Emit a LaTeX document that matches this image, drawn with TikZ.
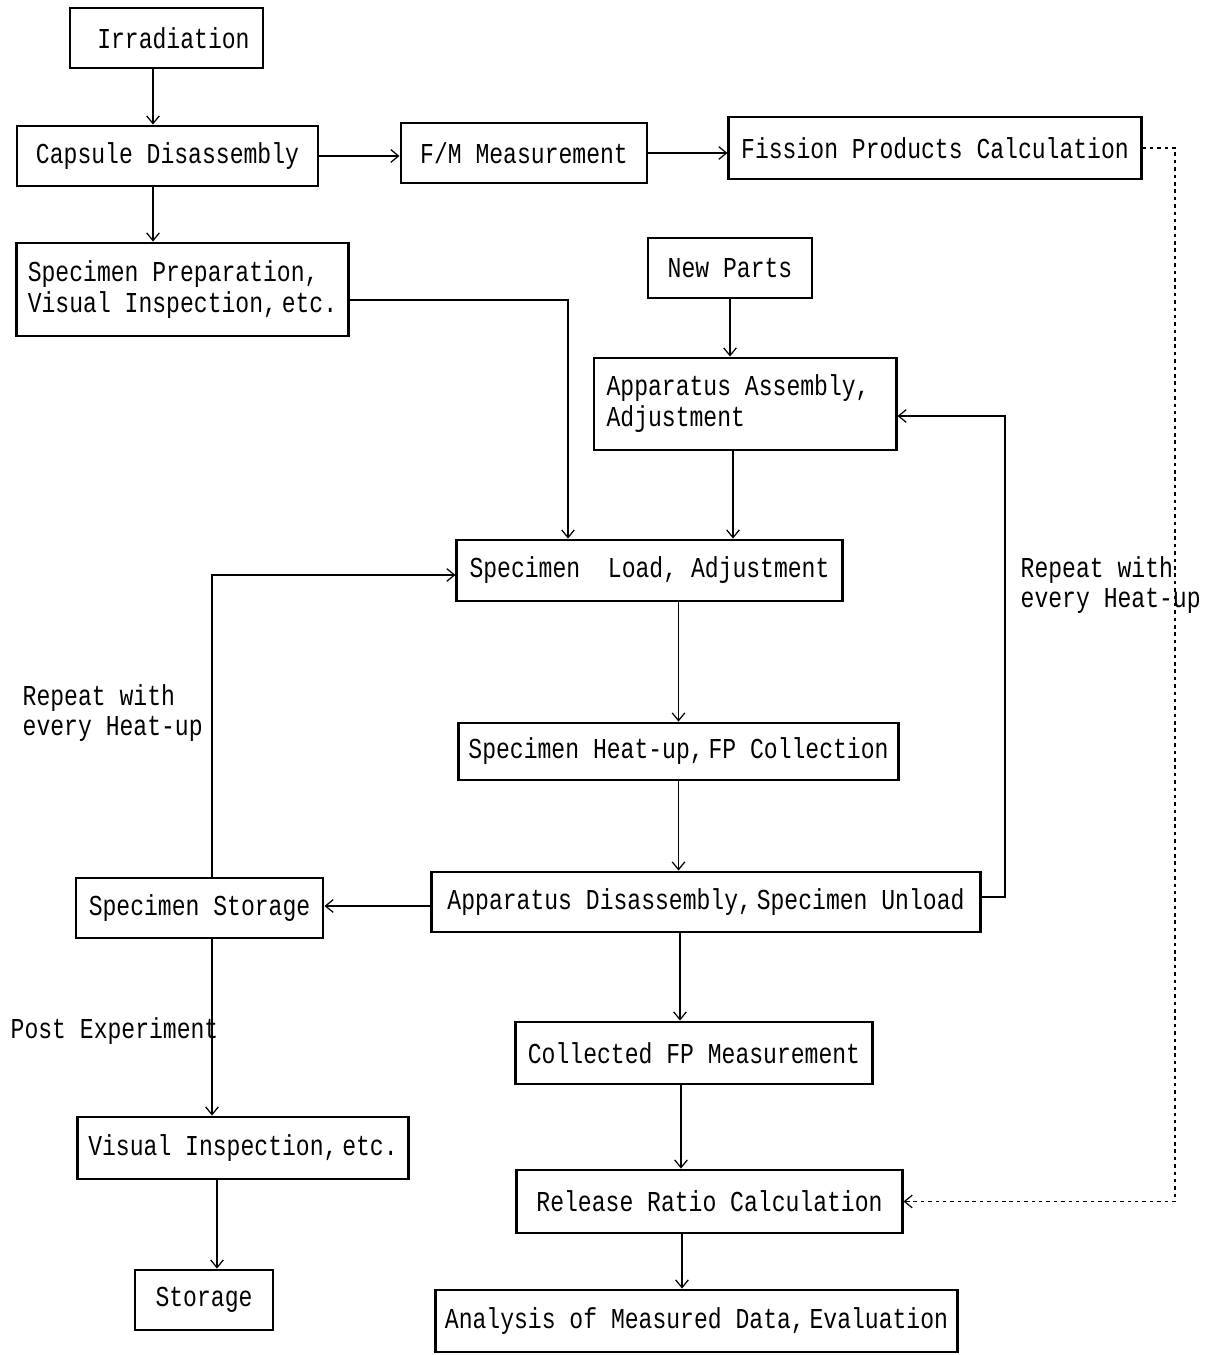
\documentclass[tikz,border=0pt]{standalone}
\usepackage{fontspec}
\setmonofont[FakeStretch=0.8]{Liberation Mono}
\usetikzlibrary{arrows.meta}

\tikzset{
  box/.style={draw, line width=0.8pt, inner sep=0pt, font=\ttfamily\fontsize{8.2}{8.8}\selectfont},
  note/.style={inner sep=0pt, align=left, font=\ttfamily\fontsize{8.2}{8.6}\selectfont},
  flow/.style={line width=0.35pt, -{Straight Barb[length=2.2pt, width=3.6pt]}},
  feed/.style={flow, dash pattern=on 1pt off 1.1pt}
}

\begin{document}
\begin{tikzpicture}[x=0.01cm, y=-0.01cm]
      \useasboundingbox (0,0) rectangle (1209,1355);

      \node[box, minimum width=1.93cm, minimum height=0.60cm] (irrad) at (166.5,38) {\ Irradiation};
      \node[box, minimum width=3.01cm, minimum height=0.60cm] (capsule) at (167.5,156) {Capsule Disassembly};
      \node[box, minimum width=2.46cm, minimum height=0.60cm] (fm) at (524,153) {F/M Measurement};
      \node[box, minimum width=4.12cm, minimum height=0.62cm] (fission) at (935,148) {Fission Products Calculation};
      \node[box, minimum width=3.31cm, minimum height=0.93cm, align=left] (prep) at (182.5,289.5) {Specimen Preparation,\\Visual Inspection,\,etc.};
      \node[box, minimum width=1.64cm, minimum height=0.60cm] (newparts) at (730,268) {New Parts};
      \node[box, minimum width=3.02cm, minimum height=0.92cm, align=left] (appasm) at (745,404) {Apparatus Assembly,\\Adjustment\hphantom{ Assembly,}};
      \node[box, minimum width=3.85cm, minimum height=0.61cm] (load) at (649.5,570.5) {Specimen\ \ Load, Adjustment};
      \node[box, minimum width=4.39cm, minimum height=0.57cm] (heat) at (678.5,751.5) {Specimen Heat-up,\,FP Collection};
      \node[box, minimum width=5.48cm, minimum height=0.60cm] (appdis) at (706,902) {Apparatus Disassembly,\,Specimen Unload};
      \node[box, minimum width=2.47cm, minimum height=0.60cm] (specstore) at (199.5,908) {Specimen Storage};
      \node[box, minimum width=3.56cm, minimum height=0.62cm] (collfp) at (694,1053) {Collected FP Measurement};
      \node[box, minimum width=3.30cm, minimum height=0.62cm] (visinsp) at (243,1148) {Visual Inspection,\,etc.};
      \node[box, minimum width=3.85cm, minimum height=0.63cm] (release) at (709.5,1201.5) {Release Ratio Calculation};
      \node[box, minimum width=1.38cm, minimum height=0.60cm] (storage) at (204,1300) {Storage};
      \node[box, minimum width=5.21cm, minimum height=0.62cm] (analysis) at (696.5,1321) {Analysis of Measured Data,\,Evaluation};

      \node[note, anchor=north west] (repright) at (1020,556) {Repeat with\\every Heat-up};
      \node[note, anchor=north west] (repleft) at (22,684) {Repeat with\\every Heat-up};
      \node[note, anchor=west] (postexp) at (10,1031) {Post Experiment};

      \coordinate (leftcol) at (212,0);
      \coordinate (loopcol) at (1005,0);
      \coordinate (dotcol) at (1175,0);

      \draw[flow] (irrad.south -| 153,0) -- (capsule.north -| 153,0);
      \draw[flow] (capsule.south -| 153,0) -- (prep.north -| 153,0);
      \draw[flow] (capsule.east) -- (capsule.east -| fm.west);
      \draw[flow] (fm.east) -- (fm.east -| fission.west);
      \draw[feed] (fission.east) -- (fission.east -| dotcol) -- (release.east -| dotcol) -- (release.east);
      \draw[flow] (prep.east |- 0,300) -| (load.north -| 568,0);
      \draw[flow] (newparts.south) -- (newparts.south |- appasm.north);
      \draw[flow] (appasm.south -| 733,0) -- (load.north -| 733,0);
      \draw[flow] (load.south -| heat) -- (heat.north);
      \draw[flow] (heat.south) -- (heat.south |- appdis.north);
      \draw[flow] (appdis.east |- 0,897) -| (loopcol |- 0,416) -- (appasm.east |- 0,416);
      \draw[flow] (appdis.west |- 0,906) -- (specstore.east |- 0,906);
      \draw[flow] (specstore.north -| leftcol) |- (load.west |- 0,575);
      \draw[flow] (specstore.south -| leftcol) -- (visinsp.north -| leftcol);
      \draw[flow] (visinsp.south -| 217,0) -- (storage.north -| 217,0);
      \draw[flow] (appdis.south -| 680,0) -- (collfp.north -| 680,0);
      \draw[flow] (collfp.south -| 681,0) -- (release.north -| 681,0);
      \draw[flow] (release.south -| 682,0) -- (analysis.north -| 682,0);
    \end{tikzpicture}
\end{document}
